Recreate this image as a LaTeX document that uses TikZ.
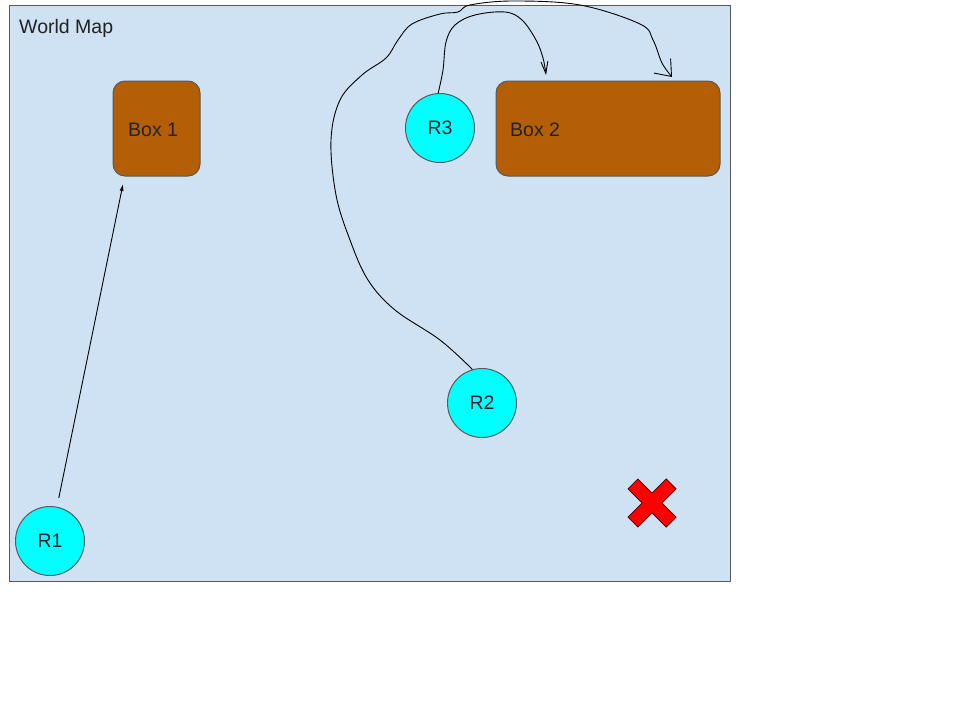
\documentclass[tikz,border=0pt]{standalone}
\usepackage{fontspec}
\setmainfont{Liberation Sans}
\usetikzlibrary{arrows.meta}
\definecolor{mapblue}{HTML}{CFE2F3}
\definecolor{boxbrown}{HTML}{B45F06}
\definecolor{edgegray}{HTML}{595959}
\definecolor{robotcyan}{HTML}{00FFFF}
\definecolor{txt}{HTML}{222222}
\tikzset{
  map/.style={draw=edgegray, fill=mapblue, line width=1pt},
  boxnode/.style={draw=edgegray, fill=boxbrown, rounded corners=12pt, line width=1pt, inner sep=0pt},
  robot/.style={circle, draw=edgegray, fill=robotcyan, line width=1pt, minimum size=69pt, inner sep=0pt, text=txt, font=\fontsize{19.5}{22}\selectfont},
  lbl/.style={font=\fontsize{19.5}{22}\selectfont, text=txt, anchor=west, inner sep=0pt},
  conn/.style={draw=black, line width=0.9pt},
}
\begin{document}
\begin{tikzpicture}[x=1pt,y=-1pt]
\useasboundingbox (0,0) rectangle (960,720);
\fill[white] (0,0) rectangle (960,720);
\draw[map] (9,5) rectangle (730,581);
\node[lbl] (title) at (19,28) {World Map};
% boxes
\draw[boxnode] (113,81) rectangle (200,176);
\node[inner sep=0pt, minimum width=87pt, minimum height=95pt] (Box1) at (156.5,128.5) {};
\node[lbl] (b1l) at (128,130) {Box 1};
\draw[boxnode] (496,81) rectangle (720,176);
\node[inner sep=0pt, minimum width=224pt, minimum height=95pt] (Box2) at (608,128.5) {};
\node[lbl] (b2l) at (510,130) {Box 2};
% robots
\node[robot] (R3) at (440,128) {R3};
\node[robot] (R2) at (482,403) {R2};
\node[robot] (R1) at (50,541) {R1};
% target cross
\draw[fill=red, draw=black!70!red, line width=0.8pt, shift={(652,503)}, rotate=45]
  (7,27) -- (7,7) -- (27,7) -- (27,-7) -- (7,-7) -- (7,-27) -- (-7,-27) -- (-7,-7)
  -- (-27,-7) -- (-27,7) -- (-7,7) -- (-7,27) -- cycle;
% connectors
\coordinate (t1) at (123,184);
\coordinate (t3) at (546,75);
\coordinate (t2) at (672,77);
\draw[conn, -{Latex[length=7pt,width=4pt]}, shorten <=9pt] (R1) -- (t1);
\draw[conn, -{Straight Barb[length=12pt,width=7pt]}] plot[smooth, tension=0.6] coordinates {
  (R3.93) (443,70) (446,42) (455,25) (475,15) (505,12) (522,20) (536,40) (543,58) (t3)};
\draw[conn, -{Straight Barb[length=14pt,width=22pt]}] plot[smooth, tension=0.6] coordinates {
  (R2.106) (440,340) (395,310) (368,280) (350,240) (336,195) (331,140) (340,100) (362,75)
  (386,58) (398,40) (412,24) (440,14) (458,12) (470,5) (513,1) (580,5) (640,24) (653,40) (662,63) (t2)};
\end{tikzpicture}
\end{document}
